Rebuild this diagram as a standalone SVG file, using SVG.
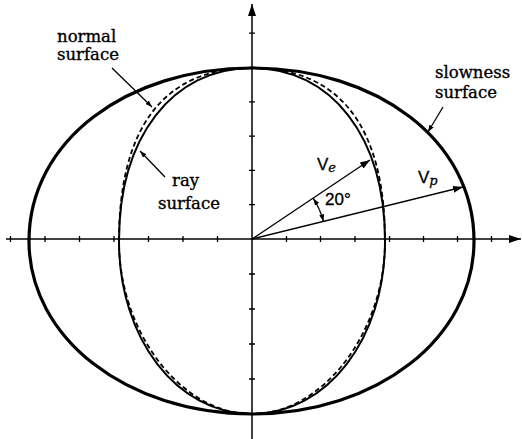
<svg xmlns="http://www.w3.org/2000/svg" width="522" height="439" viewBox="0 0 522 439">
<style>
.axis{stroke:#000;stroke-width:1.5;fill:none}
.tick{stroke:#000;stroke-width:1.3}
.outer{stroke:#000;stroke-width:3.2;fill:none}
.inner{stroke:#000;stroke-width:2;fill:none}
.dash{stroke:#000;stroke-width:1.8;fill:none;stroke-dasharray:5 3}
.lead{stroke:#000;stroke-width:1.3;fill:none}
.lbl{font-family:"DejaVu Serif","Liberation Serif",serif;font-size:16.5px;fill:#000;stroke:#000;stroke-width:0.35}
.sans{font-family:"Liberation Sans",Arial,sans-serif;font-size:17px;fill:#000;stroke:#000;stroke-width:0.3}
.sub{font-family:"DejaVu Serif","Liberation Serif",serif;font-style:italic;font-size:13px}
</style>
<defs>
<marker id="ah" markerUnits="userSpaceOnUse" markerWidth="10" markerHeight="7" refX="10" refY="3.5" orient="auto"><path d="M0,0 L10,3.5 L0,7 Z" fill="#000"/></marker>
<marker id="ahs" markerUnits="userSpaceOnUse" markerWidth="7" markerHeight="5" refX="7" refY="2.5" orient="auto"><path d="M0,0 L7,2.5 L0,5 Z" fill="#000"/></marker>
<marker id="ax" markerUnits="userSpaceOnUse" markerWidth="12" markerHeight="8" refX="12" refY="4" orient="auto"><path d="M0,0 L12,4 L0,8 Z" fill="#000"/></marker>
</defs>
<rect width="522" height="439" fill="#fff"/>
<g id="axes">
<path class="axis" d="M252,439 L252,4" marker-end="url(#ax)"/>
<path class="axis" d="M6,239 L521,239" marker-end="url(#ax)"/>
<path class="tick" d="M249,204.7h6M249,170.4h6M249,136.1h6M249,101.8h6M249,67.5h6M249,33.2h6M249,274h6M249,309h6M249,344h6M249,379h6M249,414h6"/>
<path class="tick" d="M286.5,236v6M320.5,236v6M355,236v6M389.5,236v6M423.5,236v6M457.5,236v6M491.5,236v6M217.5,236v6M183,236v6M148.5,236v6M114,236v6M79.5,236v6M45,236v6M10.5,236v6"/>
</g>
<g id="slowness-surface">
<path class="outer" d="M29,241 C29,140.4 127.2,68 252,68 C376.8,68 474,140.4 474,241 C474,337.9 377.1,414 252,414 C126.9,414 29,337.9 29,241 Z"/>
</g>
<g id="ray-surface">
<path class="inner" d="M119,241 C119,137.2 172.2,68 252,68 C331.8,68 385,137.2 385,241 C385,338.7 327.1,414 252,414 C176.9,414 119,338.7 119,241 Z"/>
</g>
<g id="normal-surface">
<path class="dash" d="M119,241 C119,126.8 164.2,68 252,68 C339.8,68 385,126.8 385,241 C385,332.7 322.5,414 252,414 C181.5,414 119,332.7 119,241 Z"/>
</g>
<g id="connectors">
<path class="lead" d="M112,68 L152,107" marker-end="url(#ahs)"/>
<path class="lead" d="M165,177 L140,151" marker-end="url(#ahs)"/>
<path class="lead" d="M443,107 L428,132" marker-end="url(#ahs)"/>
<path class="lead" d="M252,239 L370,160" marker-end="url(#ah)"/>
<path class="lead" d="M252,239 L463,187" marker-end="url(#ah)"/>
<path class="lead" d="M319.3,209.5 A73.5,73.5 0 0 0 313.3,198.4" marker-end="url(#ahs)"/>
<path class="lead" d="M319.3,209.5 A73.5,73.5 0 0 1 323.4,221.5" marker-end="url(#ahs)"/>
</g>
<g id="labels">
<text class="lbl" x="57" y="42">normal</text>
<text class="lbl" x="57" y="60">surface</text>
<text class="lbl" x="435" y="78">slowness</text>
<text class="lbl" x="435" y="98">surface</text>
<text class="lbl" x="172" y="186">ray</text>
<text class="lbl" x="158" y="209">surface</text>
<text class="sans" x="317" y="170">V<tspan class="sub" dy="2">e</tspan></text>
<text class="sans" x="418" y="183">V<tspan class="sub" dy="2">p</tspan></text>
<text class="sans" x="325" y="205">20°</text>
</g>
</svg>
